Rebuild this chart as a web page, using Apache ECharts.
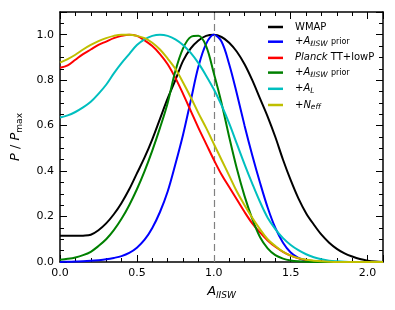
<!DOCTYPE html>
<html><head><meta charset="utf-8">
<script src="https://cdn.jsdelivr.net/npm/echarts@6/dist/echarts.min.js"></script>
<style>html,body{margin:0;padding:0;background:#fff}#c{width:395px;height:310px}</style>
</head><body><div id="c"></div>
<script>
const xs = [0,0.05,0.1,0.15,0.2,0.25,0.3,0.35,0.4,0.45,0.5,0.55,0.6,0.65,0.7,0.75,0.8,0.85,0.9,0.95,1.0,1.05,1.1,1.15,1.2,1.25,1.3,1.35,1.4,1.45,1.5,1.55,1.6,1.65,1.7,1.75,1.8,1.85,1.9,1.95,2.0,2.05,2.1];
const wmap = [0.115,0.115,0.115,0.116,0.12,0.14,0.17,0.21,0.26,0.32,0.39,0.46,0.54,0.63,0.72,0.80,0.885,0.94,0.975,0.995,1.0,0.99,0.965,0.925,0.87,0.80,0.72,0.64,0.55,0.45,0.36,0.28,0.215,0.165,0.12,0.085,0.058,0.038,0.024,0.013,0.006,0.002,0];
const wmapIsw = [0,0.001,0.002,0.003,0.005,0.008,0.012,0.018,0.026,0.04,0.063,0.098,0.15,0.22,0.31,0.43,0.56,0.71,0.86,0.96,1.0,0.97,0.87,0.74,0.60,0.47,0.35,0.24,0.15,0.085,0.042,0.018,0.006,0.002,0,0,0,0,0,0,0,0,0];
const planck = [0.855,0.865,0.89,0.915,0.935,0.955,0.97,0.985,0.995,1.0,0.995,0.975,0.95,0.915,0.87,0.81,0.74,0.665,0.59,0.52,0.45,0.385,0.33,0.275,0.22,0.17,0.13,0.095,0.067,0.045,0.028,0.016,0.009,0.004,0.002,0,0,0,0,0,0,0,0];
const planckIsw = [0.01,0.014,0.02,0.03,0.045,0.07,0.10,0.14,0.19,0.25,0.32,0.40,0.49,0.59,0.70,0.84,0.94,0.99,0.995,0.95,0.83,0.70,0.55,0.41,0.29,0.19,0.11,0.06,0.03,0.015,0.007,0.003,0.001,0,0,0,0,0,0,0,0,0,0];
const planckAL = [0.636,0.645,0.66,0.68,0.705,0.74,0.78,0.83,0.875,0.915,0.955,0.98,0.995,1.0,0.995,0.98,0.955,0.92,0.875,0.82,0.76,0.69,0.61,0.52,0.43,0.345,0.265,0.195,0.145,0.105,0.075,0.052,0.034,0.021,0.012,0.006,0.003,0.001,0,0,0,0,0];
const planckNeff = [0.877,0.893,0.912,0.935,0.955,0.972,0.985,0.995,1.0,1.0,0.995,0.985,0.965,0.935,0.895,0.85,0.79,0.725,0.655,0.59,0.52,0.45,0.38,0.31,0.25,0.195,0.145,0.10,0.07,0.045,0.028,0.017,0.01,0.006,0.003,0.001,0,0,0,0,0,0,0];
const xTicks = [0,0.5,1.0,1.5,2.0];
const yTicks = [0,0.2,0.4,0.6,0.8,1.0];
const refLine = 1.0;

const names = ['WMAP','+AISW prior (WMAP)','Planck TT+lowP','+AISW prior (Planck)','+AL','+Neff'];
const colors = ['#000000','#0000ff','#ff0000','#008000','#00bfbf','#bfbf00'];
const ys = [wmap, wmapIsw, planck, planckIsw, planckAL, planckNeff];
const legendText = {
  'WMAP': '{sp|}{n|WMAP}',
  '+AISW prior (WMAP)': '{sp|}{n|+}{it|A}{sub|ℓISW}{n| }{sm|prior}',
  'Planck TT+lowP': '{sp|}{it|Planck}{n| TT+lowP}',
  '+AISW prior (Planck)': '{sp|}{n|+}{it|A}{sub|ℓISW}{n| }{sm|prior}',
  '+AL': '{sp|}{n|+}{it|A}{sub|L}',
  '+Neff': '{sp|}{n|+}{it|N}{sub|eff}'
};
const font = 'DejaVu Sans';
const chart = echarts.init(document.getElementById('c'));
const series = names.map((n,i)=>({
  name:n, type:'line', smooth:0.35, symbol:'none', showSymbol:false, z: 3+i,
  lineStyle:{color:colors[i], width:2}, itemStyle:{color:colors[i]},
  data: xs.map((x,j)=>[x, ys[i][j]])
}));
series[0].markLine = {silent:true, symbol:'none', label:{show:false},
  lineStyle:{color:'#808080', type:[7,4], width:1.2}, data:[{xAxis: refLine}]};
const axBase = {
  axisLine:{show:true, onZero:false, lineStyle:{color:'#000', width:1.5}},
  axisTick:{show:true, inside:true, length:7, lineStyle:{color:'#000', width:1}},
  minorTick:{show:true, length:4, lineStyle:{color:'#000', width:1}},
  splitLine:{show:false}
};
chart.setOption({
  animation:false,
  textStyle:{fontFamily:font},
  grid:{left:60, right:12, top:12, bottom:48},
  legend:{orient:'vertical', left:263, top:17, itemWidth:15, itemHeight:2.5, itemGap:4.7,
    icon:'rect',
    data:names,
    formatter: n => legendText[n],
    textStyle:{fontFamily:font, fontSize:10, color:'#000',
      rich:{n:{fontSize:10, fontFamily:font, lineHeight:13},
            sp:{width:7, lineHeight:13},
            it:{fontStyle:'italic', fontSize:10, fontFamily:font, lineHeight:13},
            sub:{fontStyle:'italic', fontSize:7.5, fontFamily:font, verticalAlign:'bottom', lineHeight:6},
            sm:{fontSize:8, fontFamily:font, lineHeight:13}}}},
  xAxis:[
    Object.assign({type:'value', min:0, max:2.1, interval:0.5, position:'bottom',
      minorTick:Object.assign({}, axBase.minorTick, {splitNumber:5}),
      axisLabel:{showMaxLabel:false, formatter:v=> xTicks.includes(Math.round(v*10)/10)?v.toFixed(1):'', color:'#000', fontSize:11, fontFamily:font, margin:6},
      name:'{it|A}{sub|lISW}', nameLocation:'middle', nameGap:22,
      nameTextStyle:{color:'#000', fontSize:13, fontFamily:font, rich:{it:{fontStyle:'italic', fontSize:13, fontFamily:font, lineHeight:16}, sub:{fontStyle:'italic', fontSize:9, fontFamily:font, verticalAlign:'bottom', lineHeight:8}}}
    }, {axisLine:axBase.axisLine, axisTick:axBase.axisTick, splitLine:axBase.splitLine}),
    Object.assign({type:'value', min:0, max:2.1, interval:0.5, position:'top',
      minorTick:Object.assign({}, axBase.minorTick, {splitNumber:5}),
      axisLabel:{show:false}}, {axisLine:axBase.axisLine, axisTick:axBase.axisTick, splitLine:axBase.splitLine})
  ],
  yAxis:[
    Object.assign({type:'value', min:0, max:1.1, interval:0.2, position:'left',
      minorTick:Object.assign({}, axBase.minorTick, {splitNumber:4}),
      axisLabel:{showMaxLabel:false, formatter:v=> yTicks.includes(Math.round(v*10)/10)?v.toFixed(1):'', color:'#000', fontSize:11, fontFamily:font, margin:6},
      name:'{it|P}{n| / }{it|P}{sub|max}', nameLocation:'middle', nameGap:36,
      nameTextStyle:{color:'#000', fontSize:13, fontFamily:font, rich:{n:{fontSize:13, fontFamily:font, lineHeight:16}, it:{fontStyle:'italic', fontSize:13, fontFamily:font, lineHeight:16}, sub:{fontSize:9, fontFamily:font, verticalAlign:'bottom', lineHeight:8}}}
    }, {axisLine:axBase.axisLine, axisTick:axBase.axisTick, splitLine:axBase.splitLine}),
    Object.assign({type:'value', min:0, max:1.1, interval:0.2, position:'right',
      minorTick:Object.assign({}, axBase.minorTick, {splitNumber:4}),
      axisLabel:{show:false}}, {axisLine:axBase.axisLine, axisTick:axBase.axisTick, splitLine:axBase.splitLine})
  ],
  series: series
});
</script></body></html>
